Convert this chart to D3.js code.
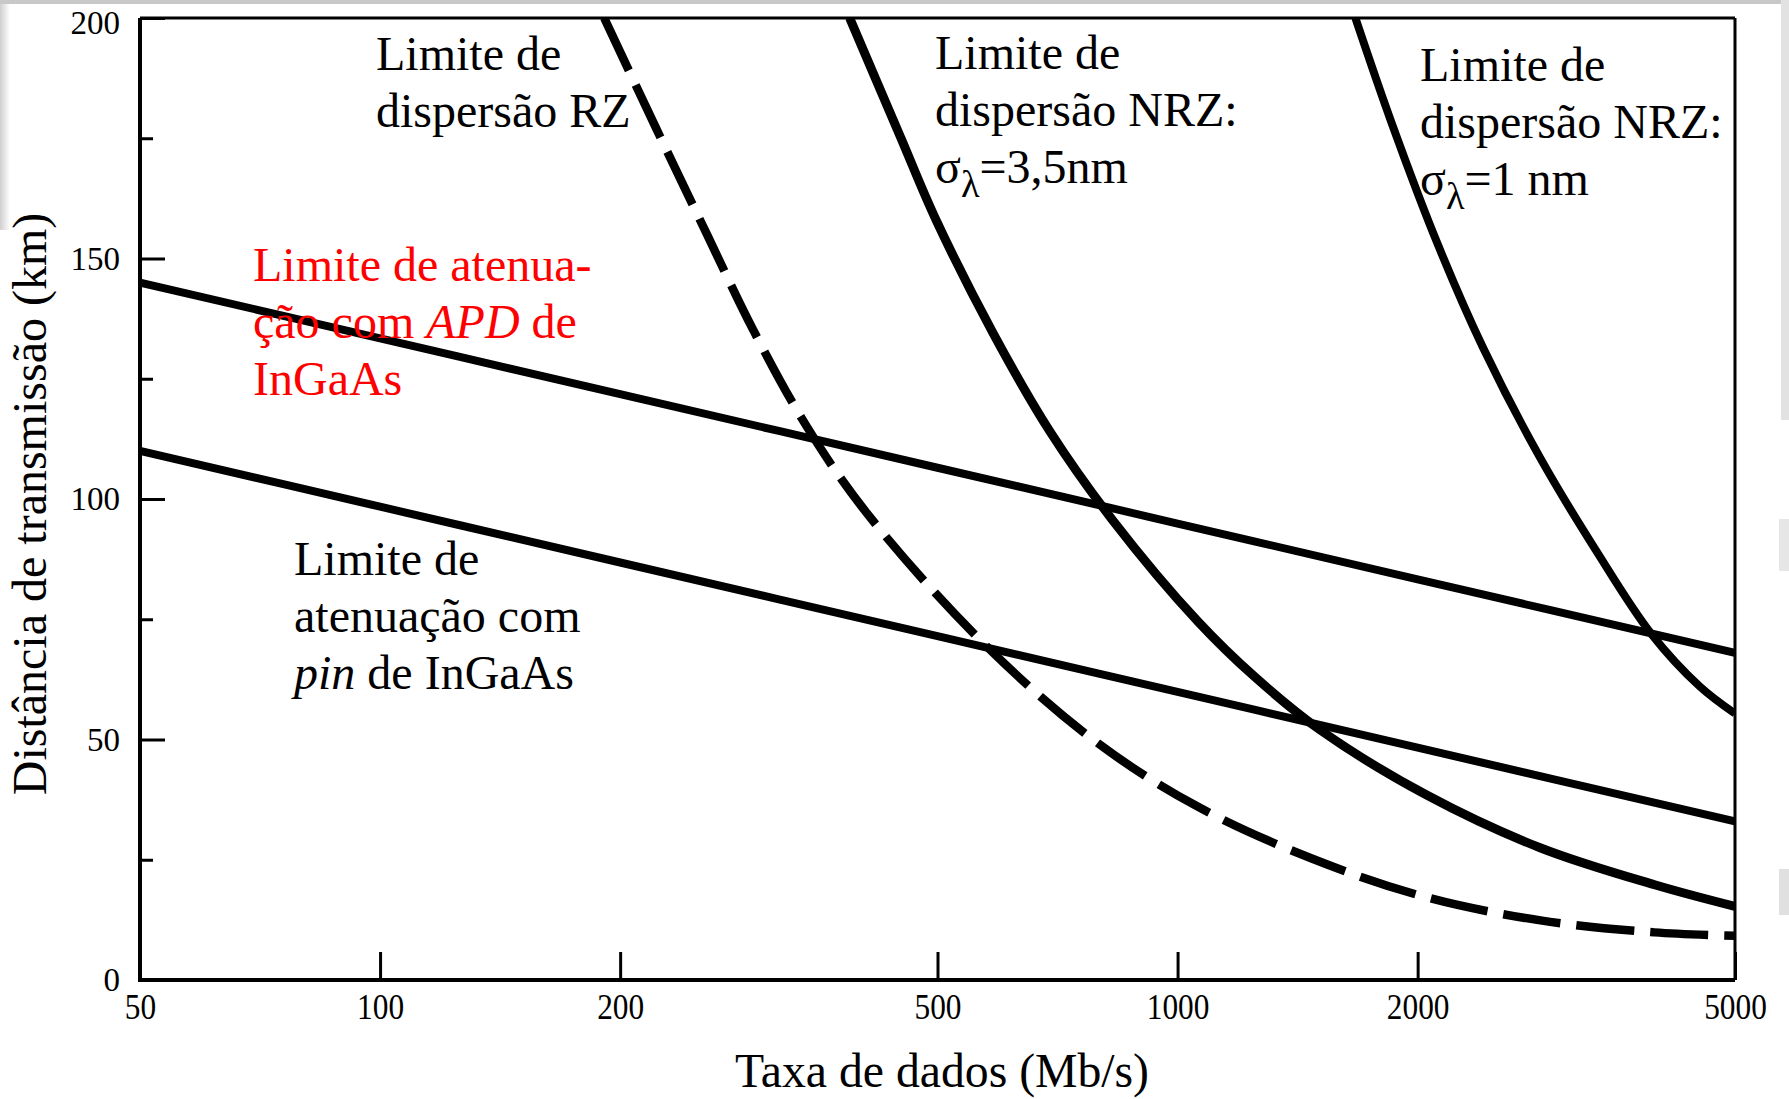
<!DOCTYPE html>
<html>
<head>
<meta charset="utf-8">
<script src="https://cdn.jsdelivr.net/npm/d3@7"></script>
<style>
  body { margin: 0; background: #fff; }
  text { font-family: "Liberation Serif", "Times New Roman", serif; }
</style>
</head>
<body>
<div id="chart"></div>
<script>
// data: bit rate (Mb/s) -> distance (km)
var xTicks = [50, 100, 200, 500, 1000, 2000, 5000];
var yTicks = [0, 50, 100, 150, 200];
var yMinor = [25, 75, 125, 175];

var apdRate = [50, 100, 200, 500, 1000, 2000, 5000];
var apdKm   = [145, 133.4, 121.8, 106.5, 94.9, 83.3, 68];

var pinRate = [50, 100, 200, 500, 1000, 2000, 5000];
var pinKm   = [110, 98.4, 86.8, 71.5, 59.9, 48.3, 33];

var rzRate = [191, 222, 257, 294, 343, 408, 571, 789, 1061, 1476, 2051, 2851, 3961, 5000];
var rzKm   = [200, 177, 155, 135, 115, 97, 70, 49.6, 36, 25.2, 17.2, 12.4, 9.9, 9.2];

var nrz35Rate = [388, 450, 497, 587, 692, 830, 1061, 1250, 1509, 2050, 2848, 3964, 5000];
var nrz35Km   = [200, 175, 158.3, 134.5, 114, 95.5, 74.5, 63, 52, 38.5, 27.5, 19.8, 15.3];

var nrz1Rate = [1671, 1857, 2119, 2415, 2848, 3356, 3925, 4519, 5000];
var nrz1Km   = [200, 178, 153, 131.5, 108.6, 89, 72, 61, 55.4];

var W = 1789, H = 1099;
var margin = ({top: 18, right: 54, bottom: 119, left: 140});
var width = W - margin.left - margin.right;
var height = H - margin.top - margin.bottom;

var svg = d3.select("#chart")
    .append("svg")
    .attr("width", W)
    .attr("height", H);

// slide border remnants
var fade = svg.append("defs").append("linearGradient").attr("id", "fadeL");
fade.append("stop").attr("offset", 0).attr("stop-color", "#cfcfcf");
fade.append("stop").attr("offset", 1).attr("stop-color", "#fff");
svg.append("rect").attr("x", 0).attr("y", 0).attr("width", 10).attr("height", 230).attr("fill", "url(#fadeL)");
svg.append("rect").attr("x", 0).attr("y", 0).attr("width", W).attr("height", 4).attr("fill", "#c8c8c8");
svg.append("rect").attr("x", 1781).attr("y", 0).attr("width", 8).attr("height", 420).attr("fill", "#e2e2e2");
svg.append("rect").attr("x", 1779).attr("y", 519).attr("width", 10).attr("height", 52).attr("fill", "#e6e6e6");
svg.append("rect").attr("x", 1779).attr("y", 869).attr("width", 10).attr("height", 46).attr("fill", "#e0e0e0");

var g = svg.append("g")
    .attr("transform", "translate(" + margin.left + "," + margin.top + ")");

var x = d3.scaleLog()
    .domain([50, 5000])
    .range([0, width]);

var y = d3.scaleLinear()
    .domain([0, 200])
    .range([height, 0]);

g.append("clipPath").attr("id", "plot")
  .append("rect").attr("width", width).attr("height", height);

var line = d3.line()
    .x((d) => x(d[0]))
    .y((d) => y(d[1]))
    .curve(d3.curveCatmullRom.alpha(0.5));

function pairs(a, b) { return a.map((v, i) => [v, b[i]]); }

var series = [
  {pts: pairs(apdRate, apdKm), w: 8, dash: null},
  {pts: pairs(pinRate, pinKm), w: 8, dash: null},
  {pts: pairs(rzRate, rzKm), w: 8.5, dash: "58,16"},
  {pts: pairs(nrz35Rate, nrz35Km), w: 9, dash: null},
  {pts: pairs(nrz1Rate, nrz1Km), w: 8, dash: null}
];

g.append("g").attr("clip-path", "url(#plot)")
  .selectAll("path")
  .data(series)
  .enter()
  .append("path")
    .attr("d", (d) => line(d.pts))
    .attr("fill", "none")
    .attr("stroke", "#000")
    .attr("stroke-width", (d) => d.w)
    .attr("stroke-dasharray", (d) => d.dash);

// axes
var xAxis = g.append("g")
    .attr("transform", "translate(0," + height + ")")
    .call(d3.axisBottom(x).tickValues(xTicks).tickFormat(d3.format("d"))
      .tickSizeInner(-28).tickSizeOuter(0).tickPadding(13));

var yAxis = g.append("g")
    .call(d3.axisLeft(y).tickValues(yTicks).tickFormat(d3.format("d"))
      .tickSizeInner(-25).tickSizeOuter(0).tickPadding(20));

g.append("g")
    .call(d3.axisLeft(y).tickValues(yMinor).tickFormat("")
      .tickSizeInner(-13).tickSizeOuter(0));

g.selectAll(".domain").remove();
g.selectAll(".tick line").attr("stroke", "#000").attr("stroke-width", 3);

xAxis.selectAll("text")
    .attr("font-family", "Liberation Serif")
    .attr("font-size", 36)
    .attr("fill", "#000")
    .each(function() {
      var t = d3.select(this);
      t.attr("textLength", this.getComputedTextLength() * 0.87)
       .attr("lengthAdjust", "spacingAndGlyphs");
    });

yAxis.selectAll("text")
    .attr("font-family", "Liberation Serif")
    .attr("font-size", 33)
    .attr("fill", "#000")
    .attr("y", (d) => d === 200 ? 5 : 0);

// frame
g.append("line").attr("x1", 0).attr("x2", width).attr("y1", 0).attr("y2", 0)
    .attr("stroke", "#000").attr("stroke-width", 3);
g.append("line").attr("x1", width).attr("x2", width).attr("y1", 0).attr("y2", height)
    .attr("stroke", "#000").attr("stroke-width", 3);
g.append("line").attr("x1", 0).attr("x2", 0).attr("y1", 0).attr("y2", height + 2)
    .attr("stroke", "#000").attr("stroke-width", 4);
g.append("line").attr("x1", -2).attr("x2", width).attr("y1", height).attr("y2", height)
    .attr("stroke", "#000").attr("stroke-width", 4);

// axis titles
svg.append("text")
    .attr("x", 942)
    .attr("y", 1087)
    .attr("text-anchor", "middle")
    .attr("font-size", 48)
    .attr("textLength", 414)
    .attr("lengthAdjust", "spacingAndGlyphs")
    .text("Taxa de dados (Mb/s)");

svg.append("text")
    .attr("transform", "translate(46,504) rotate(-90)")
    .attr("text-anchor", "middle")
    .attr("font-size", 48)
    .text("Distância de transmissão (km)");

// annotations
var fs = 48;
function block(x0, y0, lines, color) {
  var t = svg.append("text")
      .attr("font-size", fs)
      .attr("fill", color || "#000");
  lines.forEach(function(parts, i) {
    var first = true;
    parts.forEach(function(p) {
      var s = t.append("tspan").text(p.t);
      if (first) { s.attr("x", x0).attr("y", y0 + i * 57); first = false; }
      if (p.i) s.attr("font-style", "italic");
      if (p.sub) s.attr("font-size", fs * 0.8).attr("dy", 14);
      if (p.up) s.attr("dy", -14);
    });
  });
}

block(376, 70, [[{t: "Limite de"}], [{t: "dispersão RZ"}]]);
block(935, 69, [[{t: "Limite de"}], [{t: "dispersão NRZ:"}],
  [{t: "σ"}, {t: "λ", sub: true}, {t: "=3,5nm", up: true}]]);
block(1420, 81, [[{t: "Limite de"}], [{t: "dispersão NRZ:"}],
  [{t: "σ"}, {t: "λ", sub: true}, {t: "=1 nm", up: true}]]);
block(253, 281, [[{t: "Limite de atenua-"}],
  [{t: "ção com "}, {t: "APD", i: true}, {t: " de"}], [{t: "InGaAs"}]], "#ff0000");
block(294, 575, [[{t: "Limite de"}], [{t: "atenuação com"}],
  [{t: "pin", i: true}, {t: " de InGaAs"}]]);
</script>
</body>
</html>
